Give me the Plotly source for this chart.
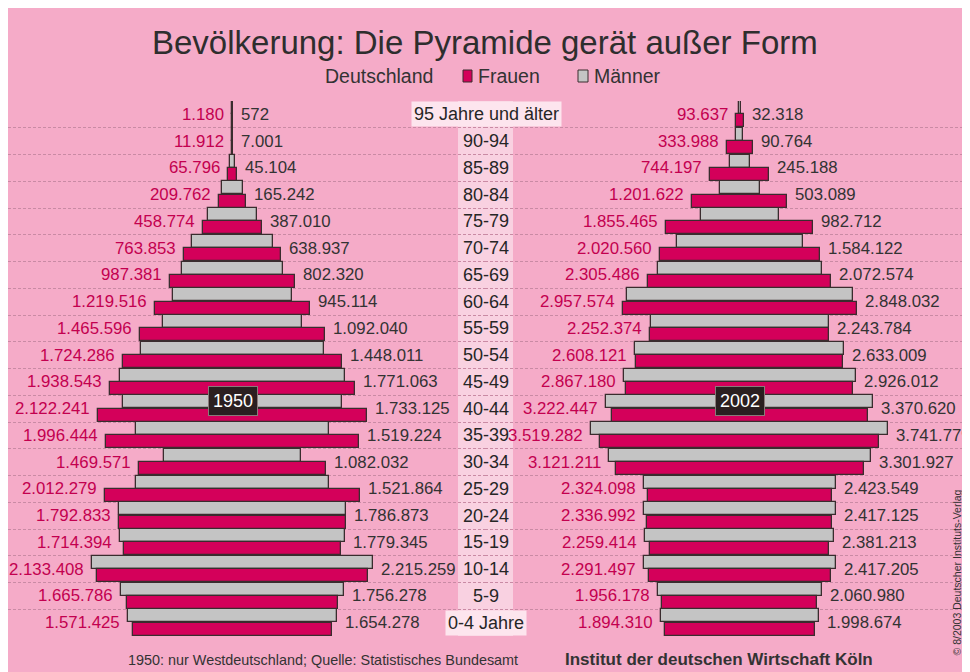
import numpy as np
import plotly.graph_objects as go

# ---------------- data ----------------
age_groups = ["0-4 Jahre", "5-9", "10-14", "15-19", "20-24", "25-29", "30-34",
              "35-39", "40-44", "45-49", "50-54", "55-59", "60-64", "65-69",
              "70-74", "75-79", "80-84", "85-89", "90-94", "95 Jahre und älter"]

frauen_1950 = [1571425, 1665786, 2133408, 1714394, 1792833, 2012279, 1469571,
               1996444, 2122241, 1938543, 1724286, 1465596, 1219516, 987381,
               763853, 458774, 209762, 65796, 11912, 1180]
maenner_1950 = [1654278, 1756278, 2215259, 1779345, 1786873, 1521864, 1082032,
                1519224, 1733125, 1771063, 1448011, 1092040, 945114, 802320,
                638937, 387010, 165242, 45104, 7001, 572]
frauen_2002 = [1894310, 1956178, 2291497, 2259414, 2336992, 2324098, 3121211,
               3519282, 3222447, 2867180, 2608121, 2252374, 2957574, 2305486,
               2020560, 1855465, 1201622, 744197, 333988, 93637]
maenner_2002 = [1998674, 2060980, 2417205, 2381213, 2417125, 2423549, 3301927,
                3741779, 3370620, 2926012, 2633009, 2243784, 2848032, 2072574,
                1584122, 982712, 503089, 245188, 90764, 32318]
years = ["1950", "2002"]

title_text = "Bevölkerung: Die Pyramide gerät außer Form"
footer_left = "1950: nur Westdeutschland; Quelle: Statistisches Bundesamt"
footer_right = "Institut der deutschen Wirtschaft Köln"
copyright_text = "© 8/2003 Deutscher Instituts-Verlag"

# ---------------- style / geometry ----------------
W, H = 962, 664          # figure size (page body margin of 8px puts it at 8,8)
OFF = 8
def px(xs):  # screen x -> paper
    return (xs - OFF) / W
def py(ys):  # screen y -> paper
    return 1 - (ys - OFF) / H

PINK = "#f5abc8"
STRIPE = "#f9d1e1"
LABELBOX = "#fde5ee"
MAGENTA = "#d4005a"
GRAY = "#c4c4c4"
OUTLINE = "#3a2c2e"
DARK = "#333333"
FR_TXT = "#c3004f"
FONT = "Arial, Liberation Sans, sans-serif"

c1950, s1950 = 232.5, 126.8e-6    # screen centre, px per person
c2002, s2002 = 739.8, 79.3e-6
split = 485.0

fig = go.Figure()
idx = np.arange(len(age_groups))

for k, (fr, ma, xa) in enumerate([(frauen_1950, maenner_1950, "x"),
                                    (frauen_2002, maenner_2002, "x2")]):
    fr = np.array(fr, dtype=float)
    ma = np.array(ma, dtype=float)
    fig.add_trace(go.Bar(orientation="h", y=idx + 0.255, x=ma, base=-ma / 2,
                         width=0.49, marker=dict(color=GRAY, line=dict(color=OUTLINE, width=1.3)),
                         name="Männer", showlegend=False, xaxis=xa, yaxis="y",
                         hoverinfo="skip"))
    fig.add_trace(go.Bar(orientation="h", y=idx - 0.245, x=fr, base=-fr / 2,
                         width=0.49, marker=dict(color=MAGENTA, line=dict(color=OUTLINE, width=1.3)),
                         name="Frauen", showlegend=False, xaxis=xa, yaxis="y",
                         hoverinfo="skip"))

def fmt(v):
    return f"{v:,}".replace(",", ".")

ann = []
for fr_list, ma_list, xr in [(frauen_1950, maenner_1950, "x"),
                             (frauen_2002, maenner_2002, "x2")]:
    for i, (f, m) in enumerate(zip(fr_list, ma_list)):
        half = max(f, m) / 2
        ann.append(dict(x=-half, y=i, xref=xr, yref="y", text=fmt(f),
                        xanchor="right", yanchor="middle", xshift=-6, showarrow=False,
                        font=dict(family=FONT, size=16.8, color=FR_TXT)))
        ann.append(dict(x=half, y=i, xref=xr, yref="y", text=fmt(m),
                        xanchor="left", yanchor="middle", xshift=6, showarrow=False,
                        font=dict(family=FONT, size=16.8, color=DARK)))

# age labels in the centre column
for i, lab in enumerate(age_groups):
    boxed = i in (0, len(age_groups) - 1)
    ann.append(dict(x=px(486), y=i, xref="paper", yref="y", text=lab,
                    xanchor="center", yanchor="middle", showarrow=False,
                    bgcolor=LABELBOX if boxed else "rgba(0,0,0,0)", borderpad=2,
                    font=dict(family=FONT, size=18, color="#262626")))

# year badges
for xr, yr in [("x", years[0]), ("x2", years[1])]:
    ann.append(dict(x=0, y=8.28, xref=xr, yref="y", text=yr, showarrow=False,
                    xanchor="center", yanchor="middle", bgcolor="#2b1f20",
                    bordercolor="#8a7a7a", borderwidth=1, borderpad=4,
                    font=dict(family=FONT, size=18, color="white")))

# title, legend texts, footer
ann.append(dict(x=px(485), y=py(43), xref="paper", yref="paper", text=title_text,
                showarrow=False, xanchor="center", yanchor="middle",
                font=dict(family=FONT, size=33, color="#2e2e2e")))
ann.append(dict(x=px(323), y=py(76), xref="paper", yref="paper", text="Deutschland",
                showarrow=False, xanchor="left", yanchor="middle",
                font=dict(family=FONT, size=19.5, color=DARK)))
ann.append(dict(x=px(476), y=py(76), xref="paper", yref="paper", text="Frauen",
                showarrow=False, xanchor="left", yanchor="middle",
                font=dict(family=FONT, size=19.5, color=DARK)))
ann.append(dict(x=px(592), y=py(76), xref="paper", yref="paper", text="Männer",
                showarrow=False, xanchor="left", yanchor="middle",
                font=dict(family=FONT, size=19.5, color=DARK)))
ann.append(dict(x=px(323), y=py(660), xref="paper", yref="paper", text=footer_left,
                showarrow=False, xanchor="center", yanchor="middle",
                font=dict(family=FONT, size=14.4, color=DARK)))
ann.append(dict(x=px(719), y=py(659), xref="paper", yref="paper",
                text="<b>" + footer_right + "</b>",
                showarrow=False, xanchor="center", yanchor="middle",
                font=dict(family=FONT, size=17, color=DARK)))
ann.append(dict(x=px(956.5), y=py(573), xref="paper", yref="paper", text=copyright_text,
                showarrow=False, xanchor="center", yanchor="middle", textangle=-90,
                font=dict(family=FONT, size=10.5, color=DARK)))

shapes = [
    # centre stripe
    dict(type="rect", xref="paper", yref="y", x0=px(458), x1=px(513), y0=-0.5, y1=19.5,
         fillcolor=STRIPE, line=dict(width=0), layer="below"),
    # legend swatches
    dict(type="rect", xref="paper", yref="paper", x0=px(463), x1=px(472), y0=py(82), y1=py(70),
         fillcolor=MAGENTA, line=dict(color=OUTLINE, width=1)),
    dict(type="rect", xref="paper", yref="paper", x0=px(578), x1=px(588), y0=py(82), y1=py(70),
         fillcolor=GRAY, line=dict(color=OUTLINE, width=1)),
]

ydom = [py(636), py(101)]
fig.update_layout(
    width=W, height=H, autosize=False,
    margin=dict(l=0, r=0, t=0, b=0, pad=0),
    paper_bgcolor=PINK, plot_bgcolor="rgba(0,0,0,0)",
    barmode="overlay", bargap=0,
    showlegend=False,
    annotations=ann, shapes=shapes,
    xaxis=dict(domain=[0, px(split)], anchor="y",
               range=[(OFF - c1950) / s1950, (split - c1950) / s1950],
               visible=False, fixedrange=True),
    xaxis2=dict(domain=[px(split), 1], anchor="y",
                range=[(split - c2002) / s2002, (OFF + W - c2002) / s2002],
                visible=False, fixedrange=True),
    yaxis=dict(domain=ydom, range=[-0.5, 19.5], anchor="x",
               tickvals=[v - 0.5 for v in range(len(age_groups) + 1)],
               showticklabels=False, ticks="", zeroline=False, showline=False,
               showgrid=True, gridcolor="#c98aa4", gridwidth=1, griddash="3px,2px",
               fixedrange=True),
)

fig.write_html("out.html")
